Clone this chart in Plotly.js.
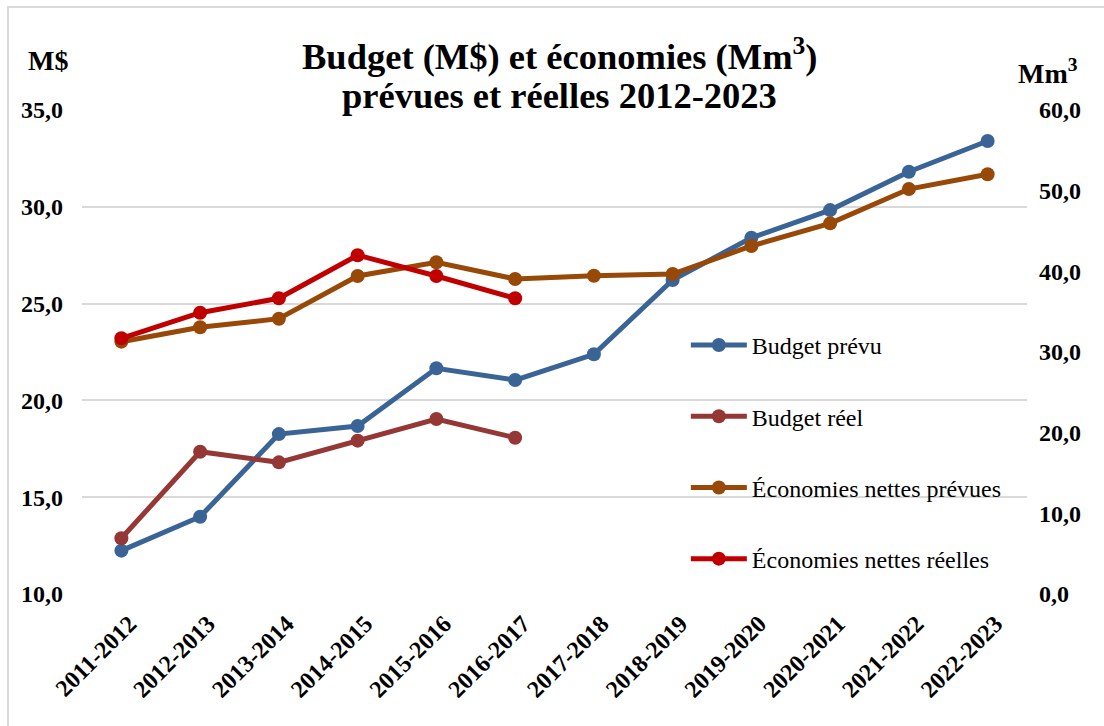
<!DOCTYPE html>
<html>
<head>
<meta charset="utf-8">
<script src="https://cdn.plot.ly/plotly-3.0.1.min.js"></script>
<style>html,body{margin:0;padding:0;background:#fff}#chart{width:1104px;height:726px}</style>
</head>
<body>
<div id="chart"></div>
<script>
const categories = ["2011-2012","2012-2013","2013-2014","2014-2015","2015-2016","2016-2017","2017-2018","2018-2019","2019-2020","2020-2021","2021-2022","2022-2023"];
const budgetPrevu = [12.24, 13.99, 18.26, 18.68, 21.66, 21.05, 22.38, 26.22, 28.40, 29.83, 31.81, 33.40];
const budgetReel = [12.88, 17.35, 16.80, 17.92, 19.04, 18.07];
const ecoPrevues = [31.28, 33.06, 34.13, 39.42, 41.12, 39.05, 39.46, 39.67, 43.14, 45.95, 50.20, 52.03];
const ecoReelles = [31.70, 34.87, 36.66, 42.00, 39.42, 36.66];
const seriesNames = ["Budget prévu", "Budget réel", "Économies nettes prévues", "Économies nettes réelles"];
const seriesColors = ["#3A6496", "#953735", "#984807", "#C00000"];
const titleLines = ["Budget (M$) et économies (Mm<sup>3</sup>)", "prévues et réelles 2012-2023"];

const FONT = "Liberation Serif, Times New Roman, serif";

function mk(i, y, axis) {
  return {
    type: "scatter", mode: "lines+markers",
    x: categories.slice(0, y.length), y: y, yaxis: axis,
    name: seriesNames[i], legendgroup: "g" + i,
    line: {color: seriesColors[i], width: 5},
    marker: {color: seriesColors[i], size: 14},
    hoverinfo: "skip"
  };
}

const data = [
  mk(0, budgetPrevu, "y"),
  mk(1, budgetReel, "y"),
  mk(2, ecoPrevues, "y2"),
  mk(3, ecoReelles, "y2")
];

const px = v => (v - 82) / 945;
const py = v => (594 - v) / 484;

const layout = {
  width: 1104, height: 726,
  margin: {l: 82, r: 77, t: 110, b: 132},
  paper_bgcolor: "#ffffff", plot_bgcolor: "#ffffff",
  separators: ", ",
  font: {family: FONT, color: "#000"},
  xaxis: {
    type: "category", range: [-0.5, 11.5],
    tickangle: -45, ticks: "", showgrid: false, showline: false, zeroline: false,
    tickfont: {family: FONT, size: 24, weight: "bold", color: "#000"},
    ticklabelstandoff: 10, ticklabelshift: 8
  },
  yaxis: {
    range: [10, 35], dtick: 5, tickformat: ".1f",
    showgrid: true, gridcolor: "#d9d9d9", gridwidth: 2,
    zeroline: false, showline: false, ticks: "",
    tickfont: {family: FONT, size: 24, weight: "bold", color: "#000"},
    ticklabelstandoff: 18
  },
  yaxis2: {
    overlaying: "y", side: "right",
    range: [0, 60], dtick: 10, tickformat: ".1f",
    showgrid: false, zeroline: false, showline: false, ticks: "",
    tickfont: {family: FONT, size: 24, weight: "bold", color: "#000"},
    ticklabelstandoff: 11
  },
  legend: {
    x: 0.639, xanchor: "left", y: 0.56, yanchor: "top",
    bgcolor: "rgba(0,0,0,0)",
    font: {family: FONT, size: 24, color: "#000"},
    traceorder: "grouped", tracegroupgap: 37, itemwidth: 56
  },
  annotations: [
    {text: titleLines[0], xref: "paper", yref: "paper", x: px(560), y: py(54),
     xanchor: "center", yanchor: "middle", showarrow: false,
     font: {family: FONT, size: 36.5, weight: "bold", color: "#000"}},
    {text: titleLines[1], xref: "paper", yref: "paper", x: px(559), y: py(95),
     xanchor: "center", yanchor: "middle", showarrow: false,
     font: {family: FONT, size: 36.5, weight: "bold", color: "#000"}},
    {text: "M$", xref: "paper", yref: "paper", x: px(48), y: py(61),
     xanchor: "center", yanchor: "middle", showarrow: false,
     font: {family: FONT, size: 28, weight: "bold", color: "#000"}},
    {text: "Mm<sup>3</sup>", xref: "paper", yref: "paper", x: px(1048), y: py(71),
     xanchor: "center", yanchor: "middle", showarrow: false,
     font: {family: FONT, size: 28, weight: "bold", color: "#000"}}
  ],
  shapes: [
    {type: "rect", xref: "paper", yref: "paper",
     x0: px(8), x1: px(1120), y0: py(740), y1: py(7),
     line: {color: "#d9d9d9", width: 2}, fillcolor: "rgba(0,0,0,0)", layer: "below"}
  ]
};

Plotly.newPlot("chart", data, layout, {displayModeBar: false, staticPlot: true});
</script>
</body>
</html>
